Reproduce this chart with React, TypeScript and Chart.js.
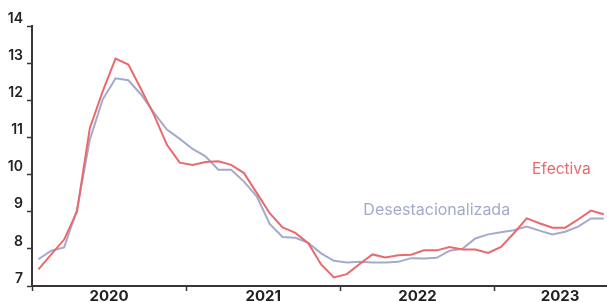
import React, { useEffect, useRef } from "react";
import { Chart, registerables } from "chart.js";

Chart.register(...registerables);

// Monthly observations, Jan 2020 .. Sep 2023 (index 0..44)
const efectiva = [
  7.45, 7.85, 8.25, 9.0, 11.25, 12.24, 13.12, 12.96, 12.29, 11.6, 10.8, 10.32,
  10.26, 10.34, 10.36, 10.26, 10.04, 9.5, 8.96, 8.58, 8.43, 8.15, 7.58, 7.23,
  7.32, 7.59, 7.85, 7.77, 7.83, 7.84, 7.96, 7.96, 8.05, 7.98, 7.98, 7.89,
  8.05, 8.42, 8.82, 8.69, 8.57, 8.57, 8.79, 9.03, 8.93,
];
const desestacionalizada = [
  7.72, 7.95, 8.04, 9.05, 10.94, 12.02, 12.59, 12.54, 12.15, 11.66, 11.21, 10.96,
  10.69, 10.49, 10.13, 10.13, 9.81, 9.41, 8.67, 8.32, 8.3, 8.16, 7.88, 7.68,
  7.63, 7.65, 7.63, 7.63, 7.65, 7.75, 7.74, 7.76, 7.95, 8.0, 8.28, 8.39,
  8.45, 8.5, 8.6, 8.49, 8.39, 8.46, 8.6, 8.82, 8.82,
];
const yearLabels = ["2020", "2021", "2022", "2023"];
const yearLabelPositions = [5.5, 17.5, 29.5, 40.6];
const yearBoundaries = [-0.5, 11.5, 23.5, 35.5];

const RED = "#E96A6C";
const BLUE = "#A2ABCB";
const AXIS = "#3a3434";
const FONT = "Inter, 'Noto Sans', sans-serif";

const seriesLabels = [
  { text: "Efectiva", color: RED, x: 40.7, y: 10.13, size: 15.5 },
  { text: "Desestacionalizada", color: BLUE, x: 31.0, y: 9.05, size: 16 },
];

const labelPlugin = {
  id: "seriesLabels",
  afterDatasetsDraw(chart: any) {
    const { ctx, scales } = chart;
    ctx.save();
    ctx.textAlign = "center";
    ctx.textBaseline = "middle";
    for (const l of seriesLabels) {
      ctx.font = `400 ${l.size}px ${FONT}`;
      ctx.fillStyle = l.color;
      ctx.fillText(l.text, scales.x.getPixelForValue(l.x), scales.y.getPixelForValue(l.y));
    }
    ctx.restore();
  },
};

export default function App() {
  const ref = useRef<HTMLCanvasElement>(null);
  useEffect(() => {
    if (!ref.current) return;
    const chart = new Chart(ref.current, {
      type: "line",
      data: {
        datasets: [
          {
            label: "Efectiva",
            data: efectiva.map((v, i) => ({ x: i, y: v })),
            borderColor: RED,
            borderWidth: 2,
            pointRadius: 0,
            tension: 0,
          },
          {
            label: "Desestacionalizada",
            data: desestacionalizada.map((v, i) => ({ x: i, y: v })),
            borderColor: BLUE,
            borderWidth: 2,
            pointRadius: 0,
            tension: 0,
          },
        ],
      },
      options: {
        responsive: false,
        animation: false,
        layout: { padding: { top: 26, left: 0, right: 0, bottom: 0 } },
        plugins: { legend: { display: false }, tooltip: { enabled: false } },
        scales: {
          x: {
            type: "linear",
            min: -0.5,
            max: 44.25,
            afterBuildTicks: (scale: any) => {
              const t = [
                ...yearBoundaries.map((v) => ({ value: v })),
                ...yearLabelPositions.map((v) => ({ value: v })),
              ].sort((a, b) => a.value - b.value);
              scale.ticks = t;
            },
            afterFit: (scale: any) => {
              scale.height = 16;
            },
            ticks: {
              autoSkip: false,
              maxRotation: 0,
              padding: -2,
              color: "#222",
              font: { family: FONT, size: 15, weight: "bold", lineHeight: 1 },
              callback: (v: any) => {
                const idx = yearLabelPositions.indexOf(Number(v));
                return idx >= 0 ? yearLabels[idx] : "";
              },
            },
            grid: {
              drawOnChartArea: false,
              tickLength: 5,
              tickWidth: 1.5,
              tickColor: (ctx: any) =>
                ctx.tick && yearBoundaries.includes(ctx.tick.value) ? AXIS : "rgba(0,0,0,0)",
            },
            border: { display: true, color: AXIS, width: 2 },
          },
          y: {
            min: 7,
            max: 14,
            afterFit: (scale: any) => {
              scale.width = 32;
            },
            ticks: {
              stepSize: 1,
              padding: 4,
              labelOffset: -7.5,
              color: "#222",
              font: { family: FONT, size: 14, weight: 600 },
            },
            grid: {
              drawOnChartArea: false,
              tickLength: 5,
              tickWidth: 1.5,
              tickColor: AXIS,
            },
            border: { display: true, color: AXIS, width: 2 },
          },
        },
      },
      plugins: [labelPlugin],
    } as any);
    return () => chart.destroy();
  }, []);
  return (
    <div style={{ position: "fixed", left: 0, top: 0, width: 607, height: 302, overflow: "hidden", background: "#fff" }}>
      <canvas ref={ref} width={607} height={302} style={{ width: 607, height: 302, display: "block" }} />
    </div>
  );
}
